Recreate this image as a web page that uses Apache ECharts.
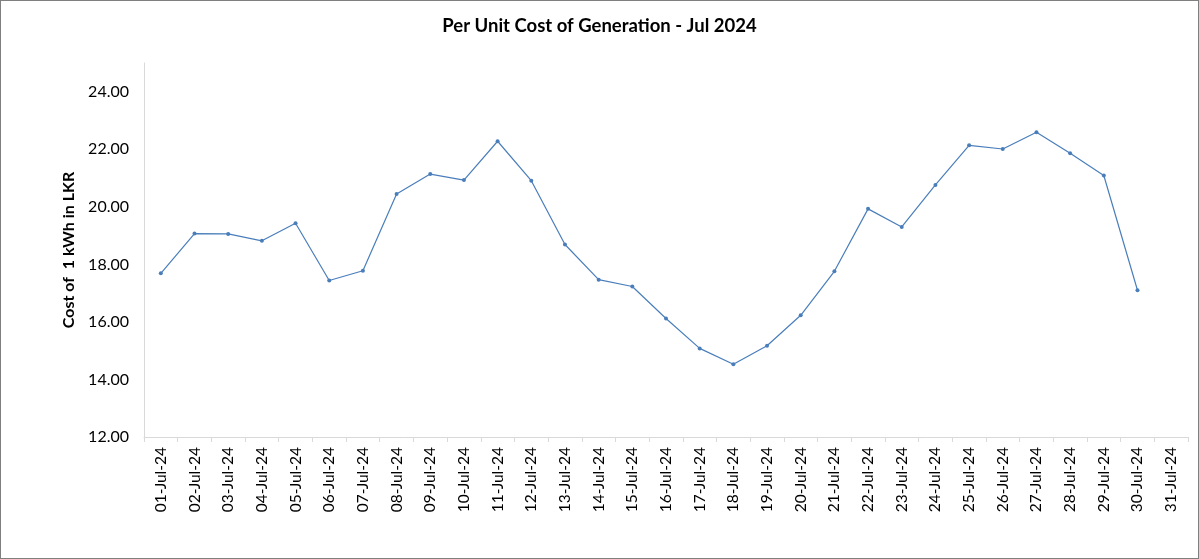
<!DOCTYPE html>
<html>
<head>
<meta charset="utf-8">
<script src="https://cdn.jsdelivr.net/npm/echarts@6/dist/echarts.min.js"></script>
<style>
html,body{margin:0;padding:0;background:#fff;}
#chart{width:1199px;height:559px;box-sizing:border-box;border:1px solid #7f7f7f;}
</style>
</head>
<body>
<div id="chart"></div>
<script>
const categories = ["01-Jul-24","02-Jul-24","03-Jul-24","04-Jul-24","05-Jul-24","06-Jul-24","07-Jul-24","08-Jul-24","09-Jul-24","10-Jul-24","11-Jul-24","12-Jul-24","13-Jul-24","14-Jul-24","15-Jul-24","16-Jul-24","17-Jul-24","18-Jul-24","19-Jul-24","20-Jul-24","21-Jul-24","22-Jul-24","23-Jul-24","24-Jul-24","25-Jul-24","26-Jul-24","27-Jul-24","28-Jul-24","29-Jul-24","30-Jul-24","31-Jul-24"];
const costValues = [17.69,19.07,19.06,18.82,19.43,17.44,17.78,20.45,21.14,20.93,22.28,20.91,18.69,17.47,17.23,16.12,15.08,14.53,15.17,16.23,17.76,19.93,19.30,20.76,22.14,22.01,22.59,21.86,21.09,17.10,null];
const titleText = "Per Unit Cost of Generation - Jul 2024";
const yAxisName = "Cost of  1 kWh in LKR";

const chart = echarts.init(document.getElementById('chart'), null, {renderer:'canvas'});
const font = "Lato, 'Open Sans', 'Liberation Sans', sans-serif";
chart.setOption({
  animation:false,
  title:{text:titleText,left:'center',top:11,textStyle:{fontFamily:font,fontSize:18.5,fontWeight:'bold',color:'#000'}},
  grid:{left:143,right:10,top:62,bottom:121,containLabel:false},
  xAxis:{
    type:'category',data:categories,boundaryGap:true,
    axisLine:{lineStyle:{color:'#d9d9d9',width:1}},
    axisTick:{show:true,length:5,alignWithLabel:false,lineStyle:{color:'#d9d9d9'}},
    axisLabel:{rotate:90,interval:0,fontFamily:font,fontSize:15.5,color:'#000',margin:10}
  },
  yAxis:{
    type:'value',min:12,max:25,interval:2,
    name:yAxisName,nameLocation:'middle',nameGap:57,nameRotate:90,
    nameTextStyle:{fontFamily:font,fontSize:16,fontWeight:'bold',color:'#000'},
    axisLine:{show:true,lineStyle:{color:'#d9d9d9'}},
    axisTick:{show:false},
    splitLine:{show:false},
    axisLabel:{showMaxLabel:false,formatter:v=>v.toFixed(2),fontFamily:font,fontSize:16,color:'#000',margin:15}
  },
  series:[{
    type:'line',data:costValues,
    lineStyle:{color:'#4a7ebb',width:1.2},
    itemStyle:{color:'#4a7ebb'},
    symbol:'circle',symbolSize:4,showSymbol:true,connectNulls:false
  }]
});
</script>
</body>
</html>
